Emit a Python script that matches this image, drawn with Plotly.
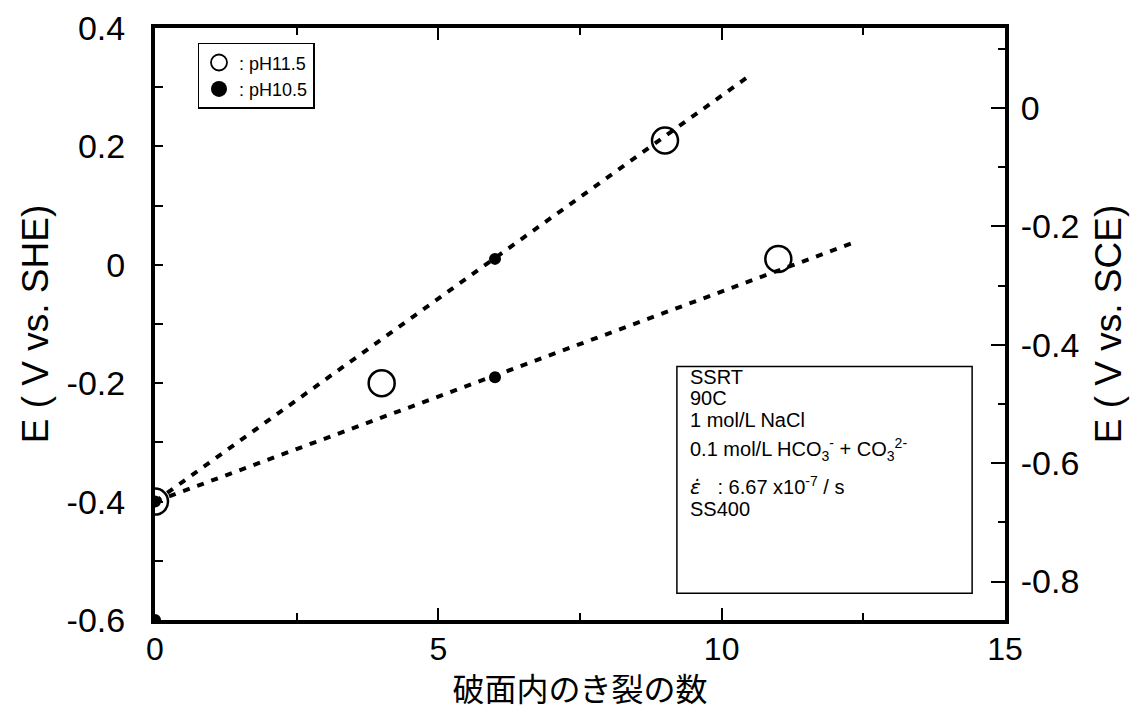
import plotly.graph_objects as go

# Number of cracks on the fracture surface vs. potential (V vs. SHE)
ph115_cracks = [0, 4, 9, 11]
ph115_potential = [-0.40, -0.20, 0.21, 0.01]

ph105_cracks = [0, 0, 6, 6]
ph105_potential = [-0.40, -0.60, 0.01, -0.19]

# Dotted trend lines (start / end points)
fit_upper_x = [0, 10.5]
fit_upper_y = [-0.40, 0.32]
fit_lower_x = [0, 12.4]
fit_lower_y = [-0.40, 0.04]

# SCE scale offset relative to SHE
sce_offset = 0.265

x_range = [0, 15]
y_range = [-0.6, 0.4]

x_ticks = [0, 5, 10, 15]
she_ticks = [-0.6, -0.4, -0.2, 0, 0.2, 0.4]
she_labels = ["-0.6", "-0.4", "-0.2", "0", "0.2", "0.4"]
sce_ticks = [-0.8, -0.6, -0.4, -0.2, 0]
sce_labels = ["-0.8", "-0.6", "-0.4", "-0.2", "0"]

condition_lines = [
    "SSRT",
    "90C",
    "1 mol/L NaCl",
    "0.1 mol/L HCO<sub>3</sub><sup>-</sup> + CO<sub>3</sub><sup>2-</sup>",
    "<span style='font-family:DejaVu Sans'><i>ε̇</i></span>&nbsp;&nbsp;&nbsp;: 6.67 x10<sup>-7</sup> / s",
    "SS400",
]
condition_y = [-0.19, -0.225, -0.262, -0.312, -0.374, -0.412]

FONT = "Liberation Sans, Arial, sans-serif"

fig = go.Figure()

fig.add_trace(go.Scatter(x=fit_upper_x, y=fit_upper_y, mode="lines",
                         line=dict(color="black", width=4, dash="7px,8px"),
                         showlegend=False, hoverinfo="skip"))
fig.add_trace(go.Scatter(x=fit_lower_x, y=fit_lower_y, mode="lines",
                         line=dict(color="black", width=4, dash="7px,8px"),
                         showlegend=False, hoverinfo="skip"))

fig.add_trace(go.Scatter(x=ph115_cracks, y=ph115_potential, mode="markers",
                         showlegend=False,
                         marker=dict(symbol="circle-open", size=26, color="black",
                                     line=dict(width=2.5, color="black"))))
fig.add_trace(go.Scatter(x=ph105_cracks, y=ph105_potential, mode="markers",
                         showlegend=False,
                         marker=dict(symbol="circle", size=12, color="black")))

# legend entries with key-sized symbols
fig.add_trace(go.Scatter(x=[None], y=[None], mode="markers", name=": pH11.5",
                         marker=dict(symbol="circle-open", size=17, color="black",
                                     line=dict(width=1.8, color="black"))))
fig.add_trace(go.Scatter(x=[None], y=[None], mode="markers", name=": pH10.5",
                         marker=dict(symbol="circle", size=16, color="black")))

# invisible trace carrying the SCE axis
fig.add_trace(go.Scatter(x=[None], y=[None], yaxis="y2", showlegend=False,
                         hoverinfo="skip"))

# conditions box
fig.add_shape(type="rect", xref="x", yref="y", x0=9.21, x1=14.42, y0=-0.555, y1=-0.172,
              line=dict(color="black", width=1.5), fillcolor="white", layer="above")
for txt, yy in zip(condition_lines, condition_y):
    fig.add_annotation(x=9.4, y=yy, xref="x", yref="y", text=txt, showarrow=False,
                       xanchor="left", yanchor="middle",
                       font=dict(family=FONT, size=20, color="black"))

axis_common = dict(showline=True, linecolor="black", linewidth=4, showgrid=False,
                   zeroline=False, ticks="inside", tickcolor="black", automargin=False,
                   tickfont=dict(family=FONT, size=34, color="black"))

fig.update_layout(
    width=1148, height=710,
    margin=dict(l=155, r=143, t=28, b=90),
    paper_bgcolor="white", plot_bgcolor="white",
    xaxis=dict(range=x_range, tickvals=x_ticks, ticklen=12, tickwidth=1.5, mirror="ticks",
               minor=dict(dtick=2.5, ticks="inside", ticklen=7, tickcolor="black"),
               title=dict(text="破面内のき裂の数", standoff=0,
                          font=dict(family="Noto Sans CJK JP", size=32, color="black")),
               ticklabelstandoff=-2,
               tickfont=dict(family=FONT, size=32, color="black"),
               **{k: v for k, v in axis_common.items() if k != "tickfont"}),
    yaxis=dict(range=y_range, tickvals=she_ticks, ticktext=she_labels,
               ticklen=8, tickwidth=1.5,
               minor=dict(dtick=0.1, ticks="inside", ticklen=8, tickcolor="black"),
               title=dict(text="E ( V vs. SHE)", standoff=8,
                          font=dict(family=FONT, size=37, color="black")),
               ticklabelstandoff=19,
               **axis_common),
    yaxis2=dict(range=[y_range[0] - sce_offset, y_range[1] - sce_offset],
                overlaying="y", side="right", tickvals=sce_ticks, ticktext=sce_labels,
                ticklen=14, tickwidth=1.5,
                minor=dict(dtick=0.1, ticks="inside", ticklen=7, tickcolor="black"),
                title=dict(text="E ( V vs. SCE)", standoff=18,
                           font=dict(family=FONT, size=37, color="black")),
                ticklabelstandoff=5,
                **axis_common),
    legend=dict(x=0.05, y=0.975, xanchor="left", yanchor="top",
                bordercolor="black", borderwidth=1.5, bgcolor="white",
                tracegroupgap=0, itemwidth=30,
                font=dict(family=FONT, size=18, color="black")),
)

fig.write_html("out.html")
